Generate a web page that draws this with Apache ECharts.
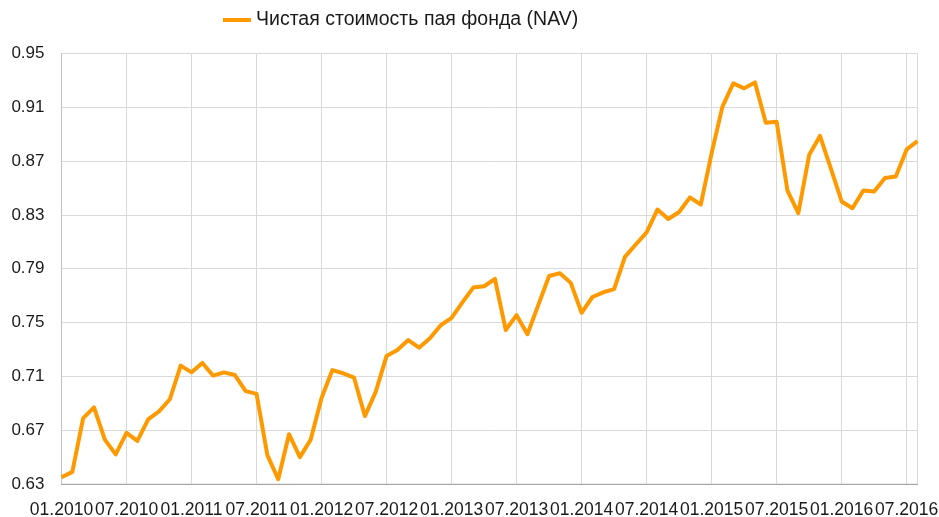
<!DOCTYPE html>
<html>
<head>
<meta charset="utf-8">
<style>html,body{margin:0;padding:0;background:#fff}#c{width:939px;height:517px}</style>
<script src="https://cdn.jsdelivr.net/npm/echarts@6/dist/echarts.min.js"></script>
</head>
<body>
<div id="c"></div>
<script>
var seriesName = 'Чистая стоимость пая фонда (NAV)';
var categories = [
 '01.2010','02.2010','03.2010','04.2010','05.2010','06.2010','07.2010','08.2010','09.2010','10.2010','11.2010','12.2010',
 '01.2011','02.2011','03.2011','04.2011','05.2011','06.2011','07.2011','08.2011','09.2011','10.2011','11.2011','12.2011',
 '01.2012','02.2012','03.2012','04.2012','05.2012','06.2012','07.2012','08.2012','09.2012','10.2012','11.2012','12.2012',
 '01.2013','02.2013','03.2013','04.2013','05.2013','06.2013','07.2013','08.2013','09.2013','10.2013','11.2013','12.2013',
 '01.2014','02.2014','03.2014','04.2014','05.2014','06.2014','07.2014','08.2014','09.2014','10.2014','11.2014','12.2014',
 '01.2015','02.2015','03.2015','04.2015','05.2015','06.2015','07.2015','08.2015','09.2015','10.2015','11.2015','12.2015',
 '01.2016','02.2016','03.2016','04.2016','05.2016','06.2016','07.2016','08.2016'
];
var navValues = [
 0.635,0.639,0.679,0.687,0.663,0.652,0.668,0.662,0.678,0.684,0.693,0.718,
 0.713,0.720,0.7105,0.713,0.711,0.699,0.697,0.6515,0.6335,0.667,0.650,0.663,
 0.694,0.7147,0.7123,0.709,0.6805,0.6985,0.7252,0.7296,0.737,0.7313,0.7383,0.748,
 0.7535,0.765,0.776,0.777,0.7824,0.7445,0.7555,0.7413,0.763,0.7846,0.7867,0.7795,
 0.7573,0.769,0.7725,0.7748,0.7988,0.808,0.817,0.834,0.827,0.8322,0.8431,0.8377,
 0.876,0.9105,0.9278,0.9241,0.9285,0.8985,0.8993,0.848,0.8313,0.8745,0.8887,0.8646,
 0.840,0.835,0.8482,0.8474,0.8575,0.8586,0.8787,0.8849
];
var yTicks = [0.63,0.67,0.71,0.75,0.79,0.83,0.87,0.91,0.95];

var chart = echarts.init(document.getElementById('c'), null, {renderer:'canvas'});
var font = '"Liberation Sans", Arial, sans-serif';
chart.setOption({
  animation: false,
  backgroundColor: '#ffffff',
  textStyle: {fontFamily: font},
  legend: {
    top: 5, left: 218,
    itemWidth: 28, itemHeight: 4, itemGap: 8,
    icon: 'rect',
    textStyle: {fontSize: 19.5, color: '#1a1a1a', fontFamily: font},
    data: [seriesName]
  },
  grid: {
    left: 61.5, right: 21.5, top: 53.5, bottom: 33,
    show: true, borderColor: '#d9d9d9', borderWidth: 1,
    containLabel: false,
    outerBoundsMode: 'none'
  },
  xAxis: {
    type: 'category',
    data: categories,
    boundaryGap: false,
    axisLine: {show: true, lineStyle: {color: '#a6a6a6', width: 1}},
    axisTick: {show: false},
    axisLabel: {interval: 5, fontSize: 17.5, color: '#1a1a1a', margin: 17, fontFamily: font, hideOverlap: false},
    splitLine: {show: true, interval: 5, lineStyle: {color: '#d9d9d9', width: 1}}
  },
  yAxis: {
    type: 'value',
    min: yTicks[0], max: yTicks[yTicks.length-1],
    axisLine: {show: true, lineStyle: {color: '#bfbfbf', width: 1}},
    axisTick: {show: false, customValues: yTicks},
    axisLabel: {customValues: yTicks, fontSize: 17, color: '#1a1a1a', margin: 17, fontFamily: font,
      formatter: function(v){ return v.toFixed(2); }},
    splitLine: {show: true, lineStyle: {color: '#d9d9d9', width: 1}}
  },
  series: [{
    name: seriesName,
    type: 'line',
    data: navValues,
    symbol: 'none',
    smooth: false,
    lineStyle: {color: '#ff9900', width: 4, join: 'round'},
    itemStyle: {color: '#ff9900'}
  }]
});
</script>
</body>
</html>
